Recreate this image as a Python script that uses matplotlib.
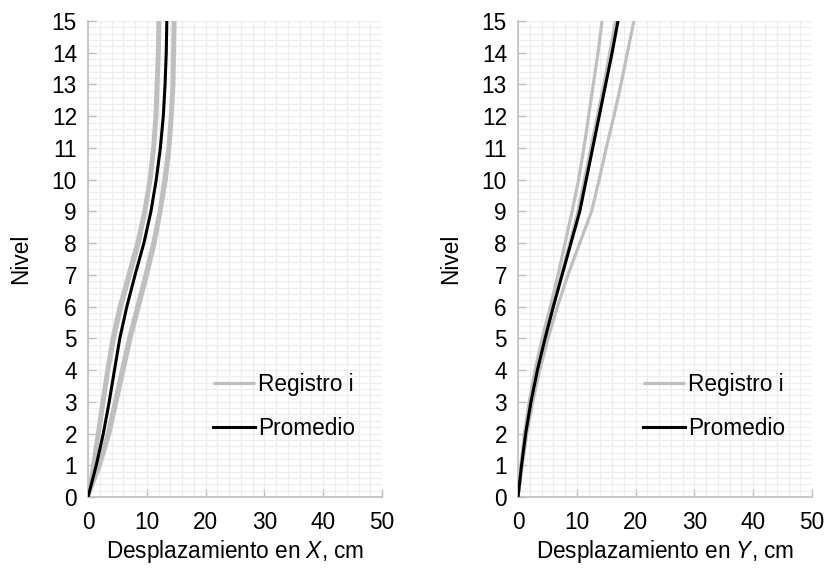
import matplotlib
matplotlib.use("Agg")
import matplotlib.pyplot as plt
from matplotlib.ticker import MultipleLocator

plt.rcParams["font.family"] = ["Liberation Sans", "DejaVu Sans"]
plt.rcParams["mathtext.fontset"] = "custom"
plt.rcParams["mathtext.rm"] = "Liberation Sans"
plt.rcParams["mathtext.it"] = "Liberation Sans:italic"
FONT = 16.3

niveles = list(range(16))

# direction X
reg_x = [
    [0, 0.8, 1.6, 2.4, 3.2, 4.1, 5.3, 6.8, 8.3, 9.5, 10.4, 11.0, 11.4, 11.6, 11.8, 11.9],
    [0, 1.0, 1.9, 2.7, 3.5, 4.5, 5.7, 7.2, 8.7, 9.8, 10.7, 11.3, 11.7, 11.9, 12.1, 12.2],
    [0, 1.8, 3.3, 4.5, 5.7, 6.9, 8.3, 9.7, 11.0, 12.1, 12.9, 13.6, 14.0, 14.3, 14.4, 14.5],
    [0, 2.1, 3.7, 4.9, 6.1, 7.3, 8.7, 10.1, 11.4, 12.4, 13.3, 13.9, 14.3, 14.6, 14.7, 14.8],
]
prom_x = [0, 1.4, 2.6, 3.6, 4.5, 5.4, 6.6, 8.0, 9.5, 10.7, 11.6, 12.3, 12.8, 13.1, 13.3, 13.4]

# direction Y
reg_y = [
    [0, 0.5, 1.1, 1.9, 2.9, 4.1, 5.5, 6.8, 8.0, 9.2, 10.3, 11.2, 12.0, 12.8, 13.6, 14.3],
    [0, 0.6, 1.3, 2.2, 3.3, 4.6, 6.0, 7.4, 8.8, 10.2, 11.3, 12.4, 13.5, 14.6, 15.6, 16.6],
    [0, 0.7, 1.5, 2.5, 3.7, 5.1, 6.7, 8.5, 10.5, 12.5, 13.8, 15.0, 16.3, 17.5, 18.6, 19.7],
]
prom_y = [0, 0.6, 1.3, 2.2, 3.3, 4.6, 6.0, 7.5, 9.0, 10.5, 11.6, 12.7, 13.8, 14.9, 16.0, 17.0]

GRAY = "#BFBFBF"
GRID = "#EDEDED"

fig = plt.figure(figsize=(8.25, 5.71), dpi=100)
ax1 = fig.add_axes([0.1067, 0.1296, 0.3564, 0.8336])
ax2 = fig.add_axes([0.6279, 0.1296, 0.3564, 0.8336])


def style_axis(ax, label):
    ax.set_xlim(0, 50)
    ax.set_ylim(0, 15)
    ax.xaxis.set_major_locator(MultipleLocator(10))
    ax.xaxis.set_minor_locator(MultipleLocator(2))
    ax.yaxis.set_major_locator(MultipleLocator(1))
    ax.yaxis.set_minor_locator(MultipleLocator(0.2))
    ax.grid(True, which="both", color=GRID, linewidth=0.9, zorder=0)
    ax.set_axisbelow(True)
    for side in ["top", "right"]:
        ax.spines[side].set_visible(False)
    for side in ["left", "bottom"]:
        ax.spines[side].set_color(GRAY)
        ax.spines[side].set_linewidth(1.2)
    ax.tick_params(axis="both", which="major", direction="in", length=6, width=1,
                   color=GRAY, labelsize=FONT, labelcolor="black")
    ax.tick_params(axis="x", which="major", pad=10)
    ax.tick_params(axis="y", which="major", pad=8)
    ax.tick_params(axis="both", which="minor", length=0)
    ax.set_ylabel("Nivel", fontsize=FONT, labelpad=14)
    ax.set_xlabel(label, fontsize=FONT, labelpad=3)


for ax, regs, prom, lab in [
    (ax1, reg_x, prom_x, "Desplazamiento en $\\it{X}$, cm"),
    (ax2, reg_y, prom_y, "Desplazamiento en $\\it{Y}$, cm"),
]:
    for i, r in enumerate(regs):
        ax.plot(r, niveles, color=GRAY, linewidth=2.3, solid_capstyle="butt",
                label="Registro i" if i == 0 else None, zorder=2)
    ax.plot(prom, niveles, color="black", linewidth=2.2, label="Promedio", zorder=3)
    style_axis(ax, lab)
    ax.legend(loc="center left", bbox_to_anchor=(0.425, 0.19), frameon=False,
              fontsize=FONT, handlelength=1.85, handletextpad=0.15, labelspacing=0.95,
              borderpad=0, borderaxespad=0)

fig.savefig("out.png", dpi=100)
